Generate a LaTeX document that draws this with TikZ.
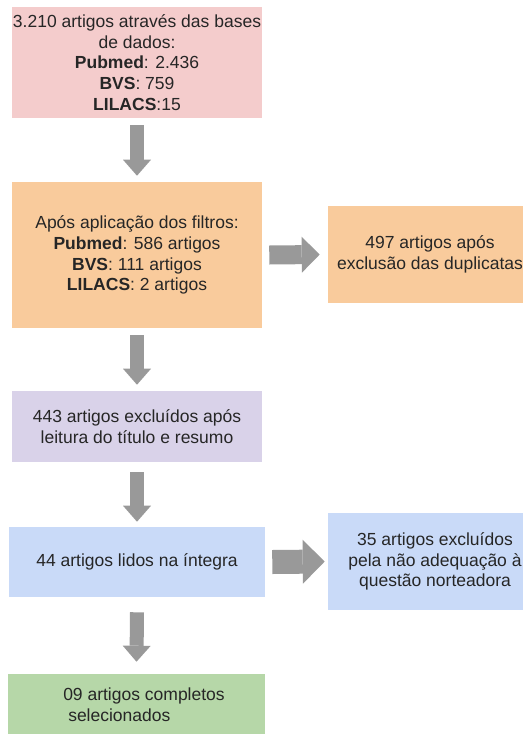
\documentclass[tikz,border=0pt]{standalone}
\usepackage{fontspec}
\setmainfont{Liberation Sans}
\usetikzlibrary{arrows.meta}
\definecolor{rosa}{HTML}{F4CCCC}
\definecolor{laranja}{HTML}{F9CB9C}
\definecolor{lilas}{HTML}{D9D2E9}
\definecolor{azul}{HTML}{C9DAF8}
\definecolor{verde}{HTML}{B6D7A8}
\definecolor{seta}{HTML}{999999}
\tikzset{box/.style={align=center,inner sep=0pt,text=black!85,font=\fontsize{12.45}{14.75}\selectfont},
  arr/.style={draw=seta,line width=0.35cm,-{Triangle[length=0.4cm,width=0.7cm,line width=0pt]}},
  harr/.style={draw=seta,line width=0.475cm,-{Triangle[length=0.45cm,width=0.9cm,line width=0pt]}}}

\begin{document}
\begin{tikzpicture}
\useasboundingbox (0,0) rectangle (13.075,-18.35);
\node[box,fill=rosa,minimum width=6.25cm,minimum height=2.775cm] (bases) at (3.425,-1.5625)
  {3.210 artigos através das bases\\de dados:\\\textbf{Pubmed}: 2.436\\\textbf{BVS}: 759\\\textbf{LILACS}:15};
\node[box,fill=laranja,minimum width=6.25cm,minimum height=3.65cm] (filtros) at (3.425,-6.375)
  {Após aplicação dos filtros:\\\textbf{Pubmed}: 586 artigos\\\textbf{BVS}: 111 artigos\\\textbf{LILACS}: 2 artigos};
\node[box,fill=laranja,minimum width=5.1cm,minimum height=2.425cm] (duplic) at (10.75,-6.3625)
  {497 artigos após\\exclusão das duplicatas};
\node[box,fill=lilas,minimum width=6.25cm,minimum height=1.775cm] (titulo) at (3.425,-10.6625)
  {443 artigos excluídos após\\leitura do título e resumo};
\node[box,fill=azul,minimum width=6.4cm,minimum height=1.75cm] (lidos) at (3.425,-14.05)
  {44 artigos lidos na íntegra};
\node[box,fill=azul,minimum width=5.35cm,minimum height=2.425cm] (norte) at (10.875,-14.0375)
  {35 artigos excluídos\\pela não adequação à\\questão norteadora};
\node[box,fill=verde,align=left,minimum width=6.425cm,minimum height=1.525cm] (final) at (3.4125,-17.6125)
  {\hspace*{0.375cm}09 artigos completos\\\hspace*{0.5cm}selecionados};
\draw[arr] ([yshift=-0.175cm]bases.south) -- ([yshift=0.15cm]filtros.north);
\draw[arr] ([yshift=-0.175cm]filtros.south) -- ([yshift=0.15cm]titulo.north);
\draw[arr] ([yshift=-0.25cm]titulo.south) -- ([yshift=0.125cm]lidos.north);
\draw[arr] ([yshift=-0.375cm]lidos.south) -- ([yshift=0.3cm]final.north);
\draw[harr] ([xshift=0.175cm]filtros.east) -- ([xshift=-0.2cm]duplic.west);
\draw[harr,line width=0.6cm,-{Triangle[length=0.55cm,width=1.1cm,line width=0pt]}] ([xshift=0.175cm]lidos.east) -- ([xshift=-0.075cm]norte.west);
\end{tikzpicture}
\end{document}
